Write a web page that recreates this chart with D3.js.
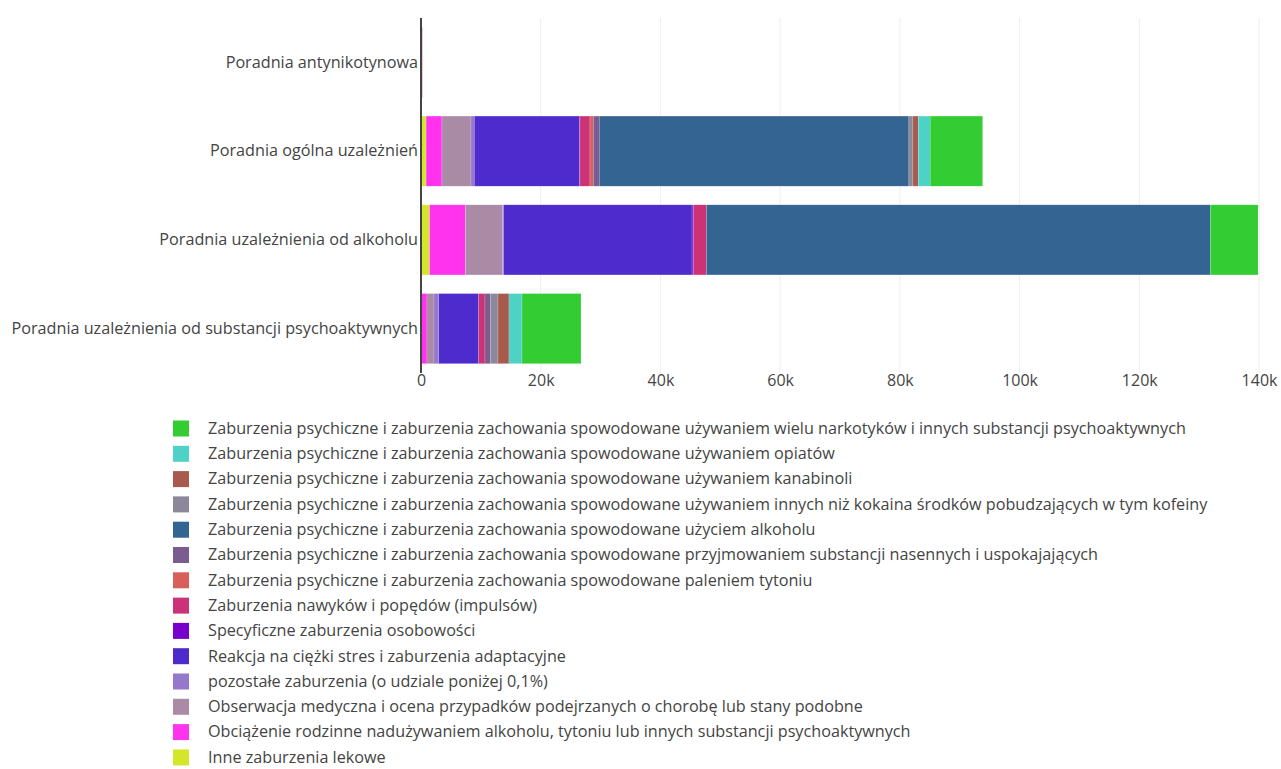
<!DOCTYPE html>
<html>
<head>
<meta charset="utf-8">
<script src="https://cdn.jsdelivr.net/npm/d3@7"></script>
<style>
  body { margin: 0; background: #fff; }
  svg { display: block; font-family: "Open Sans", sans-serif; }
</style>
</head>
<body>
<svg id="chart" width="1281" height="769"></svg>
<script>
const categories = [
  "Poradnia antynikotynowa",
  "Poradnia ogólna uzależnień",
  "Poradnia uzależnienia od alkoholu",
  "Poradnia uzależnienia od substancji psychoaktywnych"
];

// Series in legend order (top to bottom); values per category (same order as categories)
const seriesNames = [
  "Zaburzenia psychiczne i zaburzenia zachowania spowodowane używaniem wielu narkotyków i innych substancji psychoaktywnych",
  "Zaburzenia psychiczne i zaburzenia zachowania spowodowane używaniem opiatów",
  "Zaburzenia psychiczne i zaburzenia zachowania spowodowane używaniem kanabinoli",
  "Zaburzenia psychiczne i zaburzenia zachowania spowodowane używaniem innych niż kokaina środków pobudzających w tym kofeiny",
  "Zaburzenia psychiczne i zaburzenia zachowania spowodowane użyciem alkoholu",
  "Zaburzenia psychiczne i zaburzenia zachowania spowodowane przyjmowaniem substancji nasennych i uspokajających",
  "Zaburzenia psychiczne i zaburzenia zachowania spowodowane paleniem tytoniu",
  "Zaburzenia nawyków i popędów (impulsów)",
  "Specyficzne zaburzenia osobowości",
  "Reakcja na ciężki stres i zaburzenia adaptacyjne",
  "pozostałe zaburzenia (o udziale poniżej 0,1%)",
  "Obserwacja medyczna i ocena przypadków podejrzanych o chorobę lub stany podobne",
  "Obciążenie rodzinne nadużywaniem alkoholu, tytoniu lub innych substancji psychoaktywnych",
  "Inne zaburzenia lekowe"
];

const seriesColors = [
  "#33cc33", "#4dd2c5", "#a85b4d", "#8c8799", "#346491", "#7b5c90", "#d9605a",
  "#cc3377", "#7700cc", "#4e2bcd", "#9577cc", "#a98ba6", "#ff33ee", "#d4e62a"
];

const valNarkotyki   = [0,    8760,  7970,  9860];
const valOpiaty      = [0,    2000,  0,     2170];
const valKanabinole  = [0,    890,   0,     1840];
const valPobudzajace = [0,    670,   0,     1220];
const valAlkohol     = [0,    51730, 84200, 0];
const valNasenne     = [0,    1000,  0,     950];
const valTyton       = [60,   550,   0,     0];
const valNawyki      = [0,    1680,  2120,  1050];
const valOsobowosc   = [0,    100,   270,   0];
const valStres       = [0,    17550, 31500, 6680];
const valPozostale   = [180,  550,   170,   790];
const valObserwacja  = [0,    4850,  6200,  1170];
const valObciazenie  = [0,    2650,  6000,  1000];
const valLekowe      = [0,    850,   1420,  0];

const seriesValues = [
  valNarkotyki, valOpiaty, valKanabinole, valPobudzajace, valAlkohol, valNasenne, valTyton,
  valNawyki, valOsobowosc, valStres, valPozostale, valObserwacja, valObciazenie, valLekowe
];

const xTicks = [0, 20000, 40000, 60000, 80000, 100000, 120000, 140000];
const xTickLabels = ["0", "20k", "40k", "60k", "80k", "100k", "120k", "140k"];

const svg = d3.select("#chart");
const margin = { left: 421, top: 18 };

const x = d3.scaleLinear().domain([0, 140000]).range([margin.left, 1259]);
const y = d3.scaleBand().domain(categories).range([margin.top, 373]).paddingInner(0.21).paddingOuter(0.105);

// gridlines
svg.append("g").selectAll("line").data(xTicks.filter(t => t > 0)).join("line")
  .attr("x1", d => x(d)).attr("x2", d => x(d))
  .attr("y1", margin.top).attr("y2", 373)
  .attr("stroke", "#eeeeee").attr("stroke-width", 1);

// stacked data: stack order is reverse legend order
const stackOrder = d3.range(seriesNames.length).reverse();
const rows = categories.map((c, ci) => {
  const r = { cat: c };
  seriesNames.forEach((s, si) => { r[s] = seriesValues[si][ci]; });
  return r;
});
const stack = d3.stack().keys(stackOrder.map(i => seriesNames[i]));
const stacked = stack(rows);
const colorOf = {};
seriesNames.forEach((s, i) => colorOf[s] = seriesColors[i]);

const gBars = svg.append("g");
stacked.forEach(layer => {
  gBars.append("g").attr("fill", colorOf[layer.key])
    .selectAll("rect").data(layer).join("rect")
    .attr("x", d => x(d[0]))
    .attr("width", d => Math.max(0, x(d[1]) - x(d[0])))
    .attr("y", d => y(d.data.cat))
    .attr("height", y.bandwidth())
    .attr("stroke", "rgba(255,255,255,0.35)")
    .attr("stroke-width", 0.5);
});

// zero line
svg.append("line")
  .attr("x1", x(0)).attr("x2", x(0))
  .attr("y1", margin.top).attr("y2", 373)
  .attr("stroke", "#444").attr("stroke-width", 2);

// x tick labels
const xAxis = d3.axisBottom(x).tickValues(xTicks).tickFormat((d, i) => xTickLabels[i]).tickSize(0).tickPadding(0);
const gx = svg.append("g").attr("transform", `translate(0,${375})`).call(xAxis);
gx.select(".domain").remove();
gx.selectAll("text").attr("font-size", 16).attr("fill", "#444").attr("font-family", "'Open Sans', sans-serif").attr("dy", "0.71em");

// y labels
const yAxis = d3.axisLeft(y).tickSize(0).tickPadding(3);
const gy = svg.append("g").attr("transform", `translate(${x(0)},0)`).call(yAxis);
gy.select(".domain").remove();
gy.selectAll("text").attr("font-size", 16.2).attr("fill", "#444").attr("font-family", "'Open Sans', sans-serif");

// legend
const legend = svg.append("g");
const ly0 = 428.5, lstep = 25.3;
seriesNames.forEach((s, i) => {
  const g = legend.append("g").attr("transform", `translate(0,${ly0 + i * lstep})`);
  g.append("rect").attr("x", 173).attr("y", -8).attr("width", 16).attr("height", 16)
    .attr("fill", seriesColors[i]);
  g.append("text").attr("x", 208).attr("y", 0).attr("dy", "0.33em")
    .attr("font-size", 16.2).attr("fill", "#444").text(s);
});
</script>
</body>
</html>
